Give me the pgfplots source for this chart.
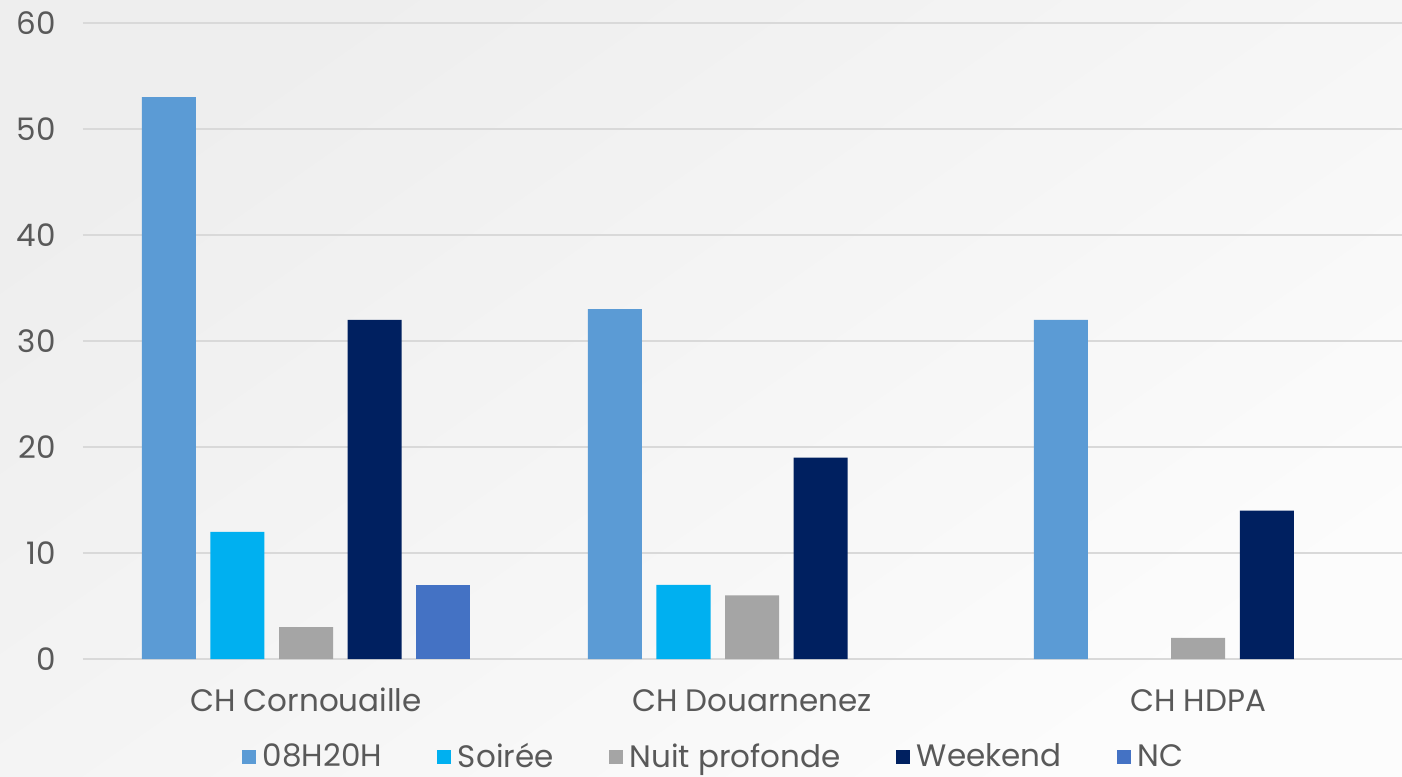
\documentclass[border=0pt]{standalone}
\usepackage{fontspec}
\setmainfont{Poppins}
\usepackage{pgfplots}
\pgfplotsset{compat=1.18}

\definecolor{cJour}{HTML}{5B9BD5}
\definecolor{cSoir}{HTML}{00B0F0}
\definecolor{cNuit}{HTML}{A5A5A5}
\definecolor{cWeek}{HTML}{002060}
\definecolor{cNC}{HTML}{4472C4}
\definecolor{txt}{HTML}{595959}
\definecolor{grille}{HTML}{D9D9D9}
\definecolor{fondA}{HTML}{EEEEEE}
\definecolor{fondB}{HTML}{FCFCFC}

\begin{document}
\begin{tikzpicture}
% fond (1 px = 0.5 pt)
\shade[top color=fondA, bottom color=fondB, shading angle=35]
  (-41.5pt,-58.5pt) rectangle (659.5pt,329.5pt);
\begin{axis}[
    at={(0pt,0pt)}, anchor=south west,
    scale only axis,
    width=659.5pt, height=318pt,
    xmin=-0.5, xmax=2.457,
    ymin=0, ymax=60,
    ytick={0,10,...,60},
    xtick={0,1,2},
    xticklabels={CH Cornouaille, CH Douarnenez, CH HDPA},
    major tick length=0pt,
    axis line style={draw=none},
    ymajorgrids,
    grid style={grille, line width=1pt},
    font=\fontsize{15.5}{18}\selectfont,
    tick label style={txt},
    /pgf/number format/assume math mode=true,
    yticklabel style={anchor=east, inner sep=0pt, xshift=-13.5pt},
    xticklabel style={anchor=base, inner sep=0pt, yshift=-26pt},
    clip=false,
    legend columns=5,
    legend style={draw=none, fill=none, at={(316.5pt,-49pt)}, anchor=center,
        text=txt, font=\fontsize{15.5}{18}\selectfont,
        nodes={inner ysep=1.5pt, inner xsep=3.5pt},
        /tikz/every even column/.append style={column sep=24pt}},
    legend image code/.code={\fill[#1] (0pt,-3.5pt) rectangle (7pt,3.5pt);},
    every axis plot/.append style={ybar, bar width=0.1211, draw=none},
]
\addplot[fill=cJour, bar shift=-0.3076] coordinates {(0,53) (1,33) (2,32)};
\addplot[fill=cSoir, bar shift=-0.1538] coordinates {(0,12) (1,7)};
\addplot[fill=cNuit, bar shift=0] coordinates {(0,3) (1,6) (2,2)};
\addplot[fill=cWeek, bar shift=0.1538] coordinates {(0,32) (1,19) (2,14)};
\addplot[fill=cNC, bar shift=0.3076] coordinates {(0,7)};
\legend{08H20H, Soirée, Nuit profonde, Weekend, NC}
\end{axis}
\pgfresetboundingbox
\useasboundingbox (-41.5pt,-58.5pt) rectangle (659.5pt,329.5pt);
\end{tikzpicture}
\end{document}
